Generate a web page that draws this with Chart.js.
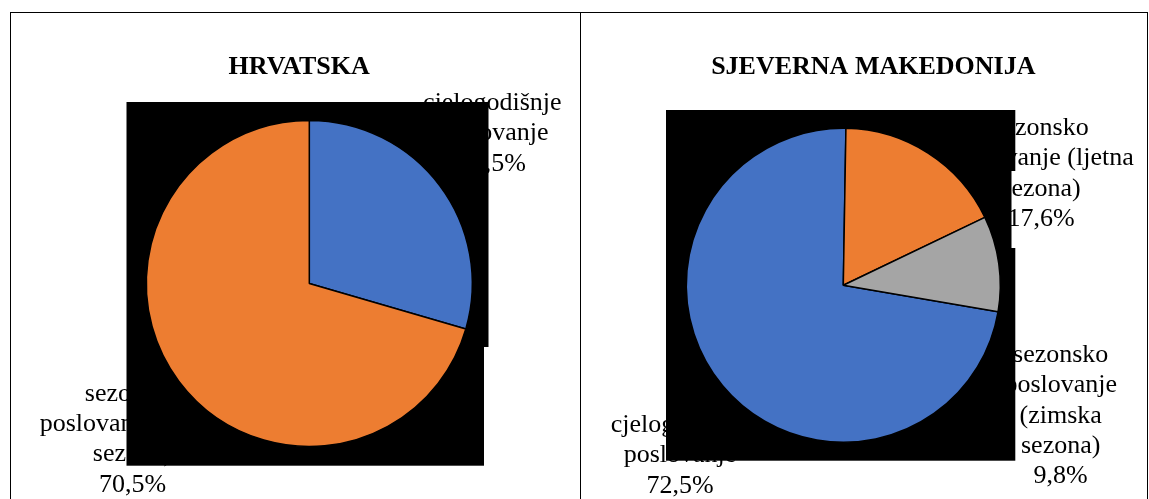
<!DOCTYPE html>
<html><head><meta charset="utf-8">
<script src="https://cdn.jsdelivr.net/npm/chart.js@4.4.1/dist/chart.umd.min.js"></script>
<style>
html,body{margin:0;padding:0;background:#fff;overflow:hidden;}
#wrap{position:relative;width:1149px;height:499px;}
canvas{position:absolute;left:0;top:0;}
.ln{position:absolute;background:#000;}
</style></head><body>
<div id="wrap">
<div class="ln" style="left:10px;top:12px;width:1138px;height:1px"></div>
<div class="ln" style="left:10px;top:12px;width:1px;height:487px"></div>
<div class="ln" style="left:580px;top:12px;width:1px;height:487px"></div>
<div class="ln" style="left:1147px;top:12px;width:1px;height:487px"></div>
<canvas id="c1" width="1149" height="499"></canvas>
<canvas id="c2" width="1149" height="499"></canvas>
</div>
<script>
// ---- data ----
const hrTitle = 'HRVATSKA';
const hrCategories = [['cjelogodišnje','poslovanje'], ['sezonsko','poslovanje (ljetna','sezona)']];
const hrValues = [29.5, 70.5];

const mkTitle = 'SJEVERNA MAKEDONIJA';
const mkCategories = [['cjelogodišnje','poslovanje'], ['sezonsko','poslovanje (ljetna','sezona)'], ['sezonsko','poslovanje','(zimska','sezona)']];
const mkValues = [72.5, 17.6, 9.8];

const sliceColors = ['#4472C4', '#ED7D31', '#A5A5A5'];

// ---- drawing ----
const FONT = "'Liberation Serif','Times New Roman',serif";
function fmt(v){ return v.toFixed(1).replace('.', ',') + '%'; }

const artPlugin = {
  id: 'art',
  beforeDatasetsDraw(chart, args, opts){
    const ctx = chart.ctx;
    const arc = chart.getDatasetMeta(0).data[0];
    const cx = arc.x, cy = arc.y;
    ctx.save();
    ctx.fillStyle = '#000';
    ctx.textAlign = 'center';
    ctx.textBaseline = 'alphabetic';
    ctx.font = 'bold 26px ' + FONT;
    ctx.fillText(opts.title, opts.titleX, opts.titleY);
    ctx.font = '26px ' + FONT;
    opts.categories.forEach((lines, i) => {
      const p = opts.labelPos[i];
      const all = lines.concat([fmt(opts.values[i])]);
      all.forEach((t, j) => ctx.fillText(t, cx + p[0], cy + p[1] + j * opts.lineH));
    });
    // black plot area (drawn over the labels, under the pie)
    ctx.fillStyle = '#000';
    opts.plotRects.forEach(r => ctx.fillRect(cx + r[0], cy + r[1], r[2], r[3]));
    ctx.restore();
  }
};

function makeChart(id, categories, values, title, cfg){
  return new Chart(document.getElementById(id), {
    type: 'pie',
    data: {
      labels: categories.map(l => l.join(' ')),
      datasets: [{
        data: values,
        backgroundColor: sliceColors.slice(0, values.length),
        borderColor: '#000',
        borderWidth: 1.5
      }]
    },
    options: {
      responsive: false,
      animation: false,
      devicePixelRatio: 1,
      events: [],
      rotation: cfg.rotation,
      radius: cfg.radius,
      layout: { padding: cfg.padding },
      plugins: {
        legend: { display: false },
        tooltip: { enabled: false },
        title: { display: false },
        art: {
          title: title, titleX: cfg.titleX, titleY: 74,
          categories: categories, values: values,
          labelPos: cfg.labelPos, lineH: 30.3,
          plotRects: cfg.plotRects
        }
      }
    },
    plugins: [artPlugin]
  });
}

makeChart('c1', hrCategories, hrValues, hrTitle, {
  rotation: 0,
  radius: 163,
  padding: { left: 139.3, right: 669.7, top: 113.5, bottom: 45.5 },
  titleX: 299.2,
  labelPos: [[183, -173.5], [-176.8, 117.2]],
  plotRects: [[-182.8, -181.5, 362, 245], [-182.8, 63.5, 357.5, 118.7]]
});

makeChart('c2', mkCategories, mkValues, mkTitle, {
  rotation: 99.7,
  radius: 157,
  padding: { left: 673.3, right: 135.7, top: 115.3, bottom: 43.7 },
  titleX: 873.3,
  labelPos: [[-163.3, 146.7], [197.7, -150.3], [217.4, 76.7]],
  plotRects: [[-177.3, -175.3, 349.3, 61], [-177.3, -114.3, 345.5, 77], [-177.3, -37.3, 349.3, 212.7]]
});
</script>
</body></html>
